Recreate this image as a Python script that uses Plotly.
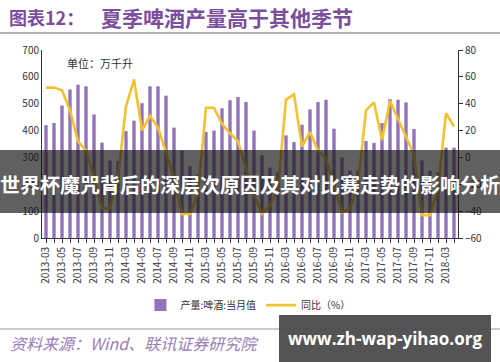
import plotly.graph_objects as go

years = [2013, 2014, 2015, 2016, 2017]
months = [3, 4, 5, 6, 7, 8, 9, 10, 11, 12]
categories = [f"{y}-{m:02d}" for y in years for m in months] + ["2018-03", "2018-04"]

production = [
    420, 428, 493, 553, 571, 565, 460, 355, 288, 287,
    398, 437, 502, 565, 565, 530, 411, 325, 267, 236,
    395, 400, 483, 513, 525, 506, 400, 308, 262, 247,
    382, 357, 422, 479, 506, 515, 407, 300, 251, 250,
    361, 354, 428, 517, 515, 505, 406, 289, 250, 245,
    336, 336,
]
yoy = [
    52, 52, 50, 35, 12, 5, -15, -38, -38, -15,
    38, 58, 20, 31, 22, 4, -16, -42, -42, -26,
    37, 37, 25, 18, 12, -8, -28, -42, -36, -23,
    43, 47, 8, 19, 5, -1, -20, -41, -38, -20,
    35, 41, 13, 42, 29, 16, 2, -43, -43, -23,
    33, 23,
]
left_ticks = [0, 100, 200, 300, 400, 500, 600, 700]
right_ticks = [-60, -40, -20, 0, 20, 40, 60, 80]

title_prefix = "图表12："
title_main = "夏季啤酒产量高于其他季节"
unit_text = "单位：万千升"
bar_name = "产量:啤酒:当月值"
line_name = "同比（%）"
source_text = "资料来源：Wind、联讯证券研究院"
overlay_title = "世界杯魔咒背后的深层次原因及其对比赛走势的影响分析"
watermark = "www.zh-wap-yihao.org"

FONT = "Noto Sans CJK SC, Noto Sans, sans-serif"
xidx = list(range(len(categories)))
ticktext = [c if i % 2 == 0 else "" for i, c in enumerate(categories)]

fig = go.Figure()
fig.add_trace(go.Bar(
    x=xidx, y=production, name=bar_name, width=0.42,
    marker=dict(color="#9272bb", line=dict(width=0)),
))
fig.add_trace(go.Scatter(
    x=xidx, y=yoy, name=line_name, yaxis="y2", mode="lines",
    line=dict(color="#f2c230", width=2.6),
))

fig.update_layout(
    width=500, height=362,
    margin=dict(l=42, r=42, t=50, b=124),
    paper_bgcolor="white", plot_bgcolor="white",
    font=dict(family=FONT, size=10, color="#333"),
    showlegend=True,
    legend=dict(orientation="h", x=0.495, xanchor="center", y=-0.357, yanchor="middle",
                font=dict(size=10, color="#333"), itemwidth=30,
                traceorder="normal", bgcolor="rgba(0,0,0,0)"),
    bargap=0.5,
    xaxis=dict(
        range=[-0.5, len(categories) - 0.5], automargin=False,
        tickmode="array", tickvals=xidx, ticktext=ticktext,
        tickangle=-90, ticks="outside", ticklen=4, tickcolor="#333",
        showline=True, linecolor="#333", linewidth=1,
        showgrid=False, zeroline=False,
        tickfont=dict(size=10, color="#333"),
    ),
    yaxis=dict(
        range=[0, 700], tickvals=left_ticks, automargin=False,
        showline=True, linecolor="#333", linewidth=1,
        ticks="", showgrid=False, zeroline=False,
        tickfont=dict(size=10, color="#333"),
    ),
    yaxis2=dict(
        range=[-60, 80], tickvals=right_ticks, overlaying="y", side="right", automargin=False,
        showline=True, linecolor="#333", linewidth=1,
        ticks="outside", ticklen=4, tickcolor="#333",
        showgrid=False, zeroline=False,
        tickfont=dict(size=10, color="#333"),
    ),
)

def py(pix):
    return (238 - pix) / 188.0

def px(pix):
    return (pix - 42) / 416.0

shapes = [
    dict(type="line", xref="paper", yref="paper", x0=px(0), x1=px(500), y0=py(33), y1=py(33),
         line=dict(color="#b0b0b0", width=2), layer="above"),
    dict(type="line", xref="paper", yref="paper", x0=px(0), x1=px(500), y0=py(329), y1=py(329),
         line=dict(color="#b8b8b8", width=1.5), layer="above"),
    dict(type="rect", xref="paper", yref="paper", x0=px(-2), x1=px(502), y0=py(213), y1=py(150),
         fillcolor="rgba(20,20,20,0.68)", line=dict(width=0), layer="above"),
    dict(type="rect", xref="paper", yref="paper", x0=px(279), x1=px(491), y0=py(362), y1=py(315),
         fillcolor="rgba(75,75,75,0.95)", line=dict(width=0), layer="above"),
]
fig.update_layout(shapes=shapes)

annotations = [
    dict(text="<b>" + title_prefix + "</b>", xref="paper", yref="paper", x=px(7), y=py(17),
         xanchor="left", yanchor="middle",
         showarrow=False, font=dict(family=FONT, size=18, color="#7b4f9d")),
    dict(text="<b>" + title_main + "</b>", xref="paper", yref="paper", x=px(99), y=py(17),
         xanchor="left", yanchor="middle",
         showarrow=False, font=dict(family=FONT, size=21, color="#7b4f9d")),
    dict(text=unit_text, xref="paper", yref="paper", x=px(65), y=py(63), xanchor="left", yanchor="middle",
         showarrow=False, font=dict(family=FONT, size=11, color="#333")),
    dict(text="<i>" + source_text + "</i>", xref="paper", yref="paper", x=px(8), y=py(343),
         xanchor="left", yanchor="middle",
         showarrow=False, font=dict(family=FONT, size=16, color="#9a7db5")),
    dict(text="<b>" + overlay_title + "</b>", xref="paper", yref="paper", x=px(250), y=py(184),
         xanchor="center", yanchor="middle", showarrow=False,
         font=dict(family=FONT, size=20, color="white")),
    dict(text="<b>" + watermark + "</b>", xref="paper", yref="paper", x=px(385), y=py(338),
         xanchor="center", yanchor="middle", showarrow=False,
         font=dict(family="Open Sans, DejaVu Sans, sans-serif", size=17, color="white")),
]
fig.update_layout(annotations=annotations)

fig.write_html("out.html", config={"displayModeBar": False},
               post_script="document.body.style.margin='0';document.body.style.overflow='hidden';")
